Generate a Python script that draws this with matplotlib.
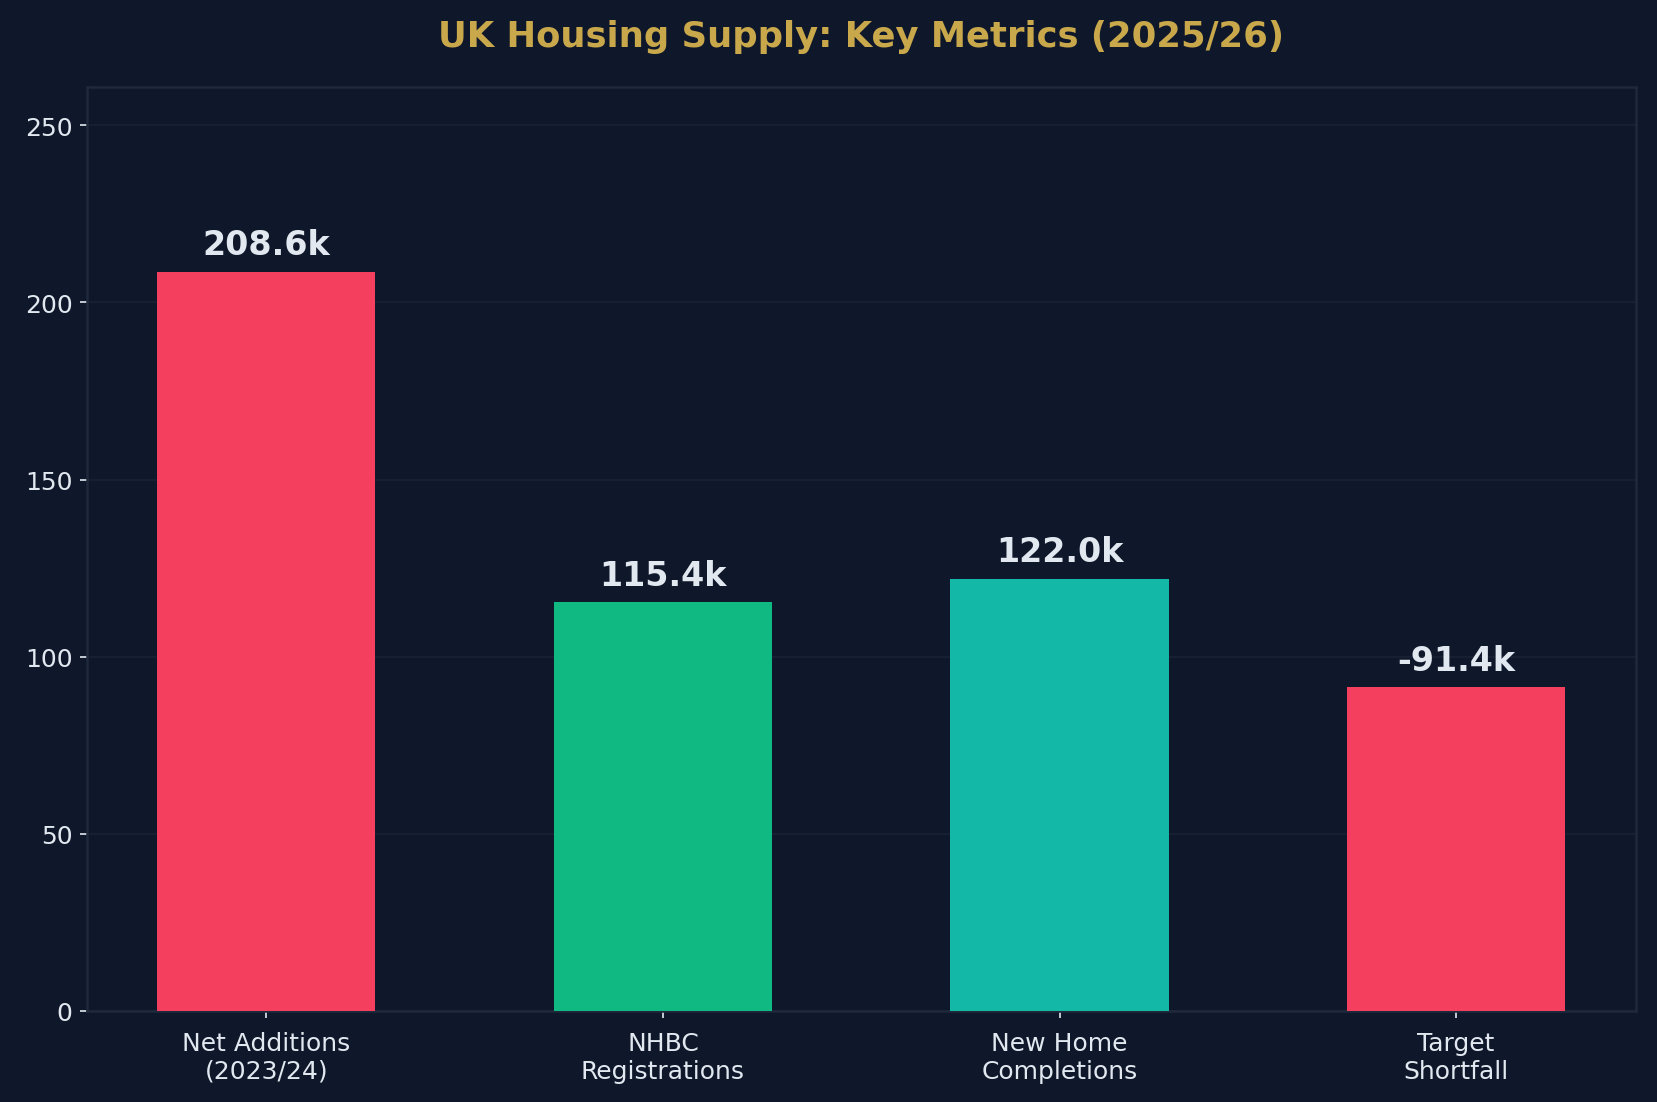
import matplotlib.pyplot as plt

categories = ["Net Additions\n(2023/24)", "NHBC\nRegistrations", "New Home\nCompletions", "Target\nShortfall"]
values = [208.6, 115.4, 122.0, -91.4]
colors = ["#f43f5e", "#10b981", "#14b8a6", "#f43f5e"]

bg = "#0f172a"
text_col = "#e2e8f0"
edge = "#1e293b"

fig, ax = plt.subplots(figsize=(11.047, 7.353), dpi=150)
fig.patch.set_facecolor(bg)
ax.set_facecolor(bg)

heights = [abs(v) for v in values]
x = range(len(categories))
bars = ax.bar(x, heights, width=0.55, color=colors, zorder=3)

for b, v in zip(bars, values):
    ax.text(b.get_x() + b.get_width() / 2, b.get_height() + 3, f"{v:.1f}k",
            ha="center", va="bottom", fontsize=16, fontweight="bold", color=text_col, zorder=4)

ax.set_xticks(list(x))
ax.set_xticklabels(categories, fontsize=12, color=text_col)
ax.tick_params(axis="y", labelsize=12, colors=text_col)
ax.tick_params(axis="x", colors=text_col, pad=6)
ax.set_ylim(0, max(heights) * 1.25)

ax.grid(axis="y", color=edge, linewidth=0.8, alpha=0.6, zorder=0)
for s in ax.spines.values():
    s.set_color(edge)
    s.set_linewidth(1.2)

ax.set_title("UK Housing Supply: Key Metrics (2025/26)", fontsize=17, fontweight="bold",
             color="#c9a84c", pad=20)

fig.subplots_adjust(left=0.0525, right=0.987, top=0.920, bottom=0.0825)
fig.savefig("out.png", facecolor=bg)
